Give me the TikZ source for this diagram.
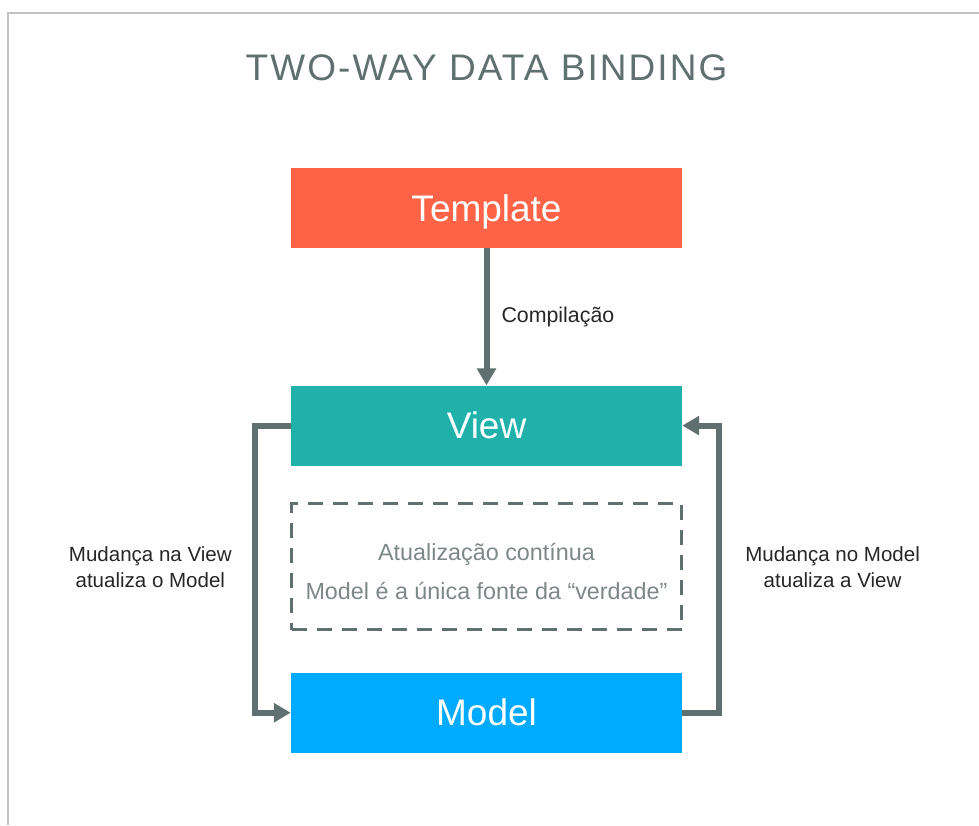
\documentclass[tikz,border=0pt]{standalone}
\usepackage{fontspec}
\setmainfont{Liberation Sans}
\newfontfamily\titlefont[LetterSpace=5.6]{Liberation Sans}
\usepackage{tikz}
\usetikzlibrary{positioning,arrows.meta}
\usepackage{xcolor}
\definecolor{tmplred}{RGB}{255,99,71}
\definecolor{viewteal}{RGB}{32,178,170}
\definecolor{modelblue}{RGB}{0,170,255}
\definecolor{linegray}{RGB}{96,112,112}
\definecolor{notegray}{RGB}{125,135,135}
\definecolor{framegray}{RGB}{195,195,195}

\tikzset{
  layer/.style={minimum width=9.775cm,minimum height=2cm,inner sep=0pt,
    text=white,text height=18.8pt,text depth=0pt,font=\fontsize{26.3}{30}\selectfont},
  sidelabel/.style={align=center,inner sep=0pt,text={black!85},
    font=\fontsize{14.6}{18.5}\selectfont},
  link/.style={->,draw=linegray,line width=0.15cm}
}

\begin{document}
\begin{tikzpicture}[>={Triangle[length=4.2mm,width=4.6mm]},node distance=1cm and 1.5cm]
\useasboundingbox (0,0) rectangle (24.475,-20.625);
\draw[framegray,line width=0.04cm] (0.2,-20.625) |- (24.475,-0.325);
\node (title) at (12.1625,-1.7) {\titlefont\fontsize{26.3}{30}\selectfont\color{linegray}TWO-WAY DATA BINDING};
\node[layer,fill=tmplred] (tmpl) at (12.1625,-5.2) {Template};
\node[layer,fill=viewteal,below=3.425cm of tmpl] (view) {View};
\node[draw=linegray,line width=0.075cm,dash pattern=on 0.375cm off 0.25cm,
  minimum width=9.75cm,minimum height=3.15cm,below=0.91cm of view] (note) {};
\node[align=center,text=notegray,font=\fontsize{16.6}{27.9}\selectfont,yshift=-0.12cm]
  (notetext) at (note.center) {Atualização contínua\\Model é a única fonte da “verdade”};
\node[layer,fill=modelblue,below=1.03cm of note] (model) {Model};
\node[sidelabel,left=1.45cm of note] (vlabel) {Mudança na View\\atualiza o Model};
\node[sidelabel,right=1.55cm of note] (mlabel) {Mudança no Model\\atualiza a View};
% connectors
\draw[link] (tmpl) -- (view) node[midway,right=0.3cm,sidelabel,font=\fontsize{15.2}{18.5}\selectfont] (clabel) {Compilação};
\draw[link] (view.west) -- ++(-0.9,0) |- (model.west);
\draw[link] (model.east) -- ++(0.925,0) |- (view.east);
\end{tikzpicture}
\end{document}
